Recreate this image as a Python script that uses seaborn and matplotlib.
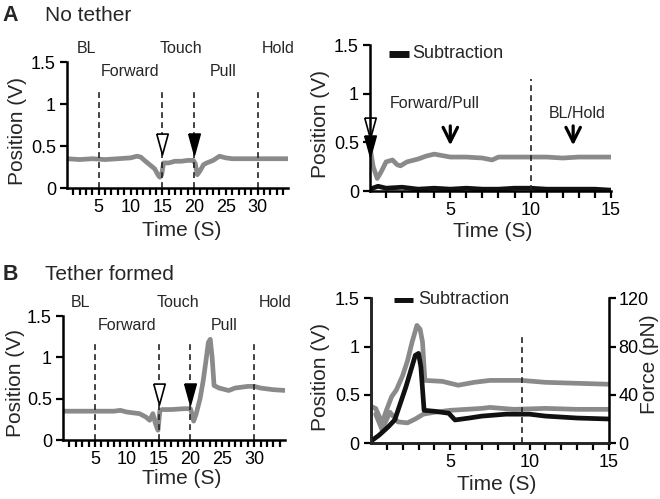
import numpy as np
import pandas as pd
import matplotlib
matplotlib.use("Agg")
import matplotlib.pyplot as plt
import seaborn as sns

# ─── Data ─────────────────────────────────────────────────────────────────────

# A, left: full protocol, no tether
a_full_t = [0, 2, 4, 6, 8, 10, 11, 11.6, 12.2, 13, 13.8, 14.3, 14.6, 14.9, 15.2,
            16, 17, 18, 19, 19.9, 20.2, 20.5, 20.9, 21.5, 22, 23, 24, 25, 26, 28,
            30, 32, 35]
a_full_v = [0.35, 0.34, 0.35, 0.34, 0.35, 0.36, 0.38, 0.37, 0.33, 0.28, 0.23, 0.16,
            0.13, 0.16, 0.30, 0.30, 0.32, 0.32, 0.33, 0.33, 0.29, 0.16, 0.20, 0.28,
            0.30, 0.33, 0.38, 0.36, 0.35, 0.35, 0.35, 0.35, 0.35]

# A, right: overlay, no tether
a_over_t = [0, 0.2, 0.45, 0.7, 1.0, 1.4, 1.7, 1.9, 2.3, 3.0, 3.5, 4.0, 5.0, 6.0,
            7.0, 7.6, 8.0, 9.0, 10, 11, 12, 13, 14, 15]
a_over_v = [0.45, 0.25, 0.13, 0.2, 0.3, 0.32, 0.27, 0.26, 0.3, 0.33, 0.36, 0.38,
            0.35, 0.35, 0.34, 0.32, 0.35, 0.35, 0.35, 0.35, 0.34, 0.35, 0.35, 0.35]
a_sub_t = [0, 0.5, 1, 2, 3, 4, 5, 6, 7, 8, 9, 10, 11, 12, 13, 14, 15]
a_sub_v = [0.02, 0.05, 0.03, 0.04, 0.02, 0.03, 0.02, 0.03, 0.02, 0.02, 0.03, 0.03,
           0.02, 0.02, 0.02, 0.02, 0.01]

# B, left: full protocol, tether formed
b_full_t = [0, 3, 6, 8, 9, 10, 11, 12, 13, 13.6, 14.1, 14.5, 14.9, 15.2, 15.6, 17,
            19, 20, 20.3, 20.5, 20.9, 21.5, 22, 22.5, 22.8, 23.1, 23.4, 23.7, 24.5,
            26, 27, 28, 29, 30, 31, 32, 33, 35]
b_full_v = [0.35, 0.35, 0.35, 0.35, 0.36, 0.34, 0.33, 0.32, 0.28, 0.24, 0.32, 0.2,
            0.12, 0.36, 0.37, 0.37, 0.38, 0.38, 0.3, 0.23, 0.32, 0.5, 0.72, 1.0,
            1.18, 1.22, 1.0, 0.66, 0.63, 0.6, 0.63, 0.64, 0.65, 0.65, 0.63, 0.62,
            0.61, 0.6]

# B, right: overlay of tether / no-tether traces and their subtraction
b_teth_t = [0, 0.3, 0.7, 1.0, 1.3, 1.6, 2.0, 2.3, 2.6, 2.9, 3.1, 3.25, 3.4, 4.5,
            5.5, 6.5, 7.5, 9.5, 11, 13, 15]
b_teth_v = [0.38, 0.36, 0.21, 0.35, 0.48, 0.55, 0.7, 0.85, 1.05, 1.22, 1.18, 1.05,
            0.65, 0.64, 0.6, 0.63, 0.65, 0.65, 0.63, 0.62, 0.61]
b_free_t = [0.3, 0.7, 1.2, 1.7, 2.3, 2.8, 3.3, 4.0, 5.0, 6.0, 7.0, 7.5, 9.0, 11,
            13, 15]
b_free_v = [0.3, 0.14, 0.32, 0.22, 0.21, 0.25, 0.3, 0.32, 0.34, 0.35, 0.36, 0.37,
            0.35, 0.36, 0.35, 0.35]
b_sub_t = [0, 0.5, 1.1, 1.5, 2.2, 2.8, 3.0, 3.15, 3.35, 4.0, 4.9, 5.3, 6.2, 7.0,
           8.5, 9.5, 10, 11, 12, 13, 15]
b_sub_v = [0.02, 0.08, 0.17, 0.24, 0.58, 0.91, 0.93, 0.79, 0.34, 0.33, 0.31, 0.24,
           0.26, 0.28, 0.3, 0.3, 0.3, 0.28, 0.27, 0.26, 0.25]

# protocol annotations
phase_names = ["BL", "Forward", "Touch", "Pull", "Hold"]
phase_x_a = [3.0, 9.9, 18.0, 24.6, 33.3]
phase_x_b = [2.8, 10.0, 18.0, 25.3, 33.3]
phase_high = [True, False, True, False, True]
phase_bounds = [5, 15, 20, 30]
touch_t, pull_t = 15, 20

pos_ticks = [0, 0.5, 1, 1.5]
pos_ticklabels = ["0", "0.5", "1", "1.5"]
force_ticks = [0, 40, 80, 120]

GRAY = "#8a8a8a"
BLACK = "#111111"

sns.set_theme(style="ticks")
plt.rcParams["font.family"] = ["Liberation Sans", "DejaVu Sans"]
plt.rcParams["axes.linewidth"] = 1.8
plt.rcParams["xtick.major.width"] = 1.6
plt.rcParams["ytick.major.width"] = 1.6

TRI = [(-0.55, 1), (0.55, 1), (0, -1), (-0.55, 1)]


def style_axis(ax, xmax, xlabels):
    sns.despine(ax=ax)
    ax.set_ylim(0, 1.5)
    ax.set_xlim(0, xmax)
    ax.set_yticks(pos_ticks)
    ax.set_yticklabels(pos_ticklabels)
    ticks = list(range(1, int(np.ceil(xmax))))
    if xmax == 15:
        ticks = list(range(1, 16))
    ax.set_xticks(ticks)
    ax.set_xticklabels([str(t) if t in xlabels else "" for t in ticks])
    ax.tick_params(axis="both", direction="out", length=5, labelsize=13,
                   colors="black", pad=3)
    ax.set_xlabel("Time (S)", fontsize=15)
    ax.set_ylabel("Position (V)", fontsize=15)
    for s in ax.spines.values():
        s.set_color("black")


def draw_full(ax, t, v, phase_x, ylab_y):
    sns.lineplot(x=t, y=v, ax=ax, color=GRAY, lw=3.4)
    style_axis(ax, 34.8, [5, 10, 15, 20, 25, 30])
    for b in phase_bounds:
        ax.plot([b, b], [0, 1.18], ls=(0, (3.5, 2.5)), color="#222222", lw=1.2)
    for name, x, hi in zip(phase_names, phase_x, phase_high):
        ax.text(x, 1.66 if hi else 1.39, name, ha="center", va="center",
                fontsize=11.5, clip_on=False)
    ax.plot([touch_t], [ylab_y], marker=TRI, ms=15, mfc="white", mec="black", mew=1.2)
    ax.plot([pull_t], [ylab_y], marker=TRI, ms=15, mfc="black", mec="black", mew=1.2)


fig = plt.figure(figsize=(6.6, 4.99), dpi=100)
ax1 = fig.add_axes([0.1015, 0.623, 0.335, 0.2525])
ax2 = fig.add_axes([0.5606, 0.617, 0.365, 0.2926])
ax3 = fig.add_axes([0.0955, 0.118, 0.336, 0.2485])
ax4 = fig.add_axes([0.562, 0.112, 0.3606, 0.29])

# ── A left ────────────────────────────────────────────────────────────────────
draw_full(ax1, a_full_t, a_full_v, phase_x_a, 0.52)
ax1.xaxis.set_label_coords(0.52, -0.26)
ax1.yaxis.set_label_coords(-0.18, 0.45)

# ── A right ───────────────────────────────────────────────────────────────────
sns.lineplot(x=a_over_t, y=a_over_v, ax=ax2, color=GRAY, lw=3.4)
sns.lineplot(x=a_sub_t, y=a_sub_v, ax=ax2, color=BLACK, lw=3.4)
style_axis(ax2, 15, [5, 10, 15])
ax2.plot([10, 10], [0, 1.15], ls=(0, (3.5, 2.5)), color="#222222", lw=1.2)
ax2.plot([0], [0.645], marker=TRI, ms=15, mfc="white", mec="black", mew=1.2, clip_on=False)
ax2.plot([0], [0.46], marker=TRI, ms=15, mfc="black", mec="black", mew=1.2, clip_on=False)
ax2.plot([1.2, 2.4], [1.41, 1.41], color=BLACK, lw=5, solid_capstyle="butt")
ax2.text(2.65, 1.41, "Subtraction", fontsize=13, va="center")
ax2.text(4.05, 0.9, "Forward/Pull", fontsize=11.5, ha="center", va="center")
ax2.text(12.9, 0.8, "BL/Hold", fontsize=11.5, ha="center", va="center")
for x in [5, 12.65]:
    ax2.annotate("", xy=(x, 0.47), xytext=(x, 0.67),
                 arrowprops=dict(arrowstyle="->", lw=2.3, color="black",
                                 mutation_scale=26, shrinkA=0, shrinkB=0))
ax2.xaxis.set_label_coords(0.51, -0.21)
ax2.yaxis.set_label_coords(-0.166, 0.46)

# ── B left ────────────────────────────────────────────────────────────────────
draw_full(ax3, b_full_t, b_full_v, phase_x_b, 0.555)
ax3.xaxis.set_label_coords(0.535, -0.23)
ax3.yaxis.set_label_coords(-0.171, 0.46)

# ── B right ───────────────────────────────────────────────────────────────────
sns.lineplot(x=b_teth_t, y=b_teth_v, ax=ax4, color=GRAY, lw=3.4)
sns.lineplot(x=b_free_t, y=b_free_v, ax=ax4, color=GRAY, lw=3.4)
sns.lineplot(x=b_sub_t, y=b_sub_v, ax=ax4, color=BLACK, lw=3.4)
style_axis(ax4, 15, [5, 10, 15])
ax4.plot([9.5, 9.5], [0, 1.12], ls=(0, (3.5, 2.5)), color="#222222", lw=1.2)
ax4.plot([1.45, 2.65], [1.49, 1.49], color=BLACK, lw=5, solid_capstyle="butt")
ax4.text(2.95, 1.49, "Subtraction", fontsize=13, va="center")
ax4.xaxis.set_label_coords(0.53, -0.22)
ax4.yaxis.set_label_coords(-0.172, 0.46)

ax4r = ax4.twinx()
ax4r.set_ylim(0, 120)
ax4r.set_yticks(force_ticks)
ax4r.spines["top"].set_visible(False)
ax4r.spines["right"].set_color("black")
ax4r.spines["right"].set_linewidth(1.8)
ax4r.tick_params(axis="y", direction="out", length=5, labelsize=13, colors="black", pad=2)
ax4r.set_ylabel("Force (pN)", fontsize=15)
ax4r.yaxis.set_label_coords(1.13, 0.545)

# ── panel titles ──────────────────────────────────────────────────────────────
fig.text(0.004, 0.968, "A", fontsize=15.5, fontweight="bold", va="center")
fig.text(0.068, 0.968, "No tether", fontsize=15, va="center")
fig.text(0.004, 0.449, "B", fontsize=15.5, fontweight="bold", va="center")
fig.text(0.068, 0.449, "Tether formed", fontsize=15, va="center")

fig.savefig("out.png", dpi=100)
